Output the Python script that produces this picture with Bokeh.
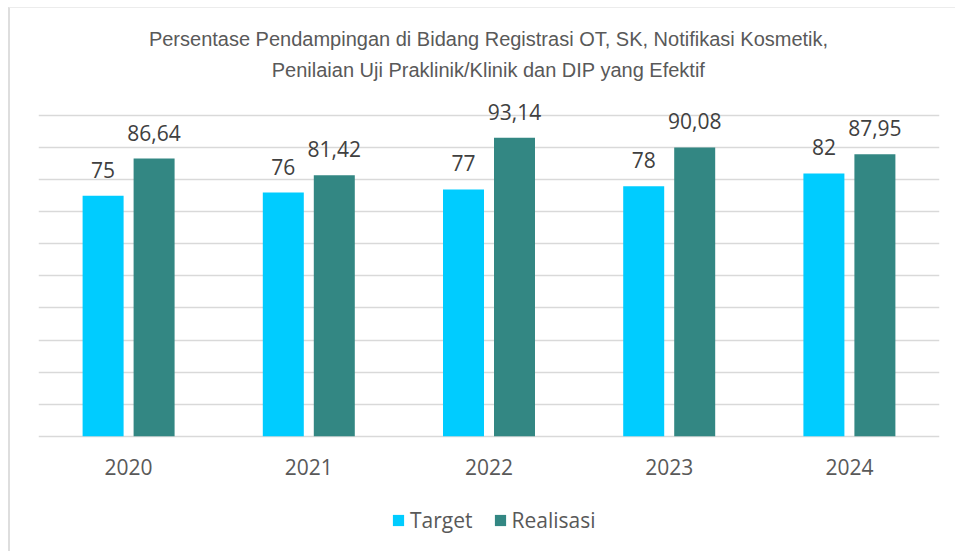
from bokeh.plotting import figure
from bokeh.models import (ColumnDataSource, LabelSet, Label, Legend, LegendItem,
                          FixedTicker, Grid, Range1d)
from bokeh.core.properties import value
from bokeh.transform import dodge
from bokeh.embed import file_html
from bokeh.resources import INLINE

years = ["2020", "2021", "2022", "2023", "2024"]
target = [75, 76, 77, 78, 82]
realisasi = [86.64, 81.42, 93.14, 90.08, 87.95]
grid_ticks = [0, 10, 20, 30, 40, 50, 60, 70, 80, 90, 100]
title_lines = ["Persentase Pendampingan di Bidang Registrasi OT, SK, Notifikasi Kosmetik,",
               "Penilaian Uji Praklinik/Klinik dan DIP yang Efektif"]

def fmt(v):
    return f"{v:g}".replace(".", ",")

src = ColumnDataSource(dict(
    year=years, target=target, realisasi=realisasi,
    base=[0] * len(years),
    target_lbl=[fmt(v) for v in target],
    real_lbl=[fmt(v) for v in realisasi],
))

W, H = 947, 544
p = figure(width=W, height=H, x_range=years, y_range=Range1d(-36.29, 133.45),
           output_backend="svg", toolbar_location=None,
           x_axis_location=None, y_axis_location=None,
           min_border_left=28, min_border_right=18, min_border_top=0, min_border_bottom=0)
p.styles = {"margin-left": "8px", "margin-top": "7px",
            "border-left": "2px solid #dedede", "border-top": "1px solid #ececec"}
p.outline_line_color = None
p.background_fill_color = "white"
p.border_fill_color = "white"
for g in list(p.xgrid) + list(p.ygrid):
    g.visible = False

p.add_layout(Grid(dimension=1, ticker=FixedTicker(ticks=grid_ticks),
                  grid_line_color="#d9d9d9", grid_line_width=1.5))

off = 0.1415
w = 0.2275
r1 = p.vbar(x=dodge("year", -off, range=p.x_range), top="target", width=w, source=src,
            fill_color="#00CCFF", line_color=None)
r2 = p.vbar(x=dodge("year", off, range=p.x_range), top="realisasi", width=w, source=src,
            fill_color="#338783", line_color=None)

for col, lbl, o in [("target", "target_lbl", -off), ("realisasi", "real_lbl", off)]:
    p.add_layout(LabelSet(x=dodge("year", o, range=p.x_range), y=col, text=lbl, source=src,
                          text_align="center", text_baseline="alphabetic", y_offset=18,
                          text_font=value("Open Sans"), text_font_size="21px",
                          text_color="#404040"))

# category labels under the baseline
p.add_layout(LabelSet(x="year", y="base", text="year", source=src,
                      text_align="center", text_baseline="alphabetic", y_offset=-39,
                      text_font=value("Open Sans"), text_font_size="21px",
                      text_color="#595959"))

# title (two centred lines)
for i, t in enumerate(title_lines):
    p.add_layout(Label(x=450, y=513.5 - 31 * i, x_units="screen", y_units="screen",
                       text=t, text_align="center", text_baseline="alphabetic",
                       text_font="Liberation Sans", text_font_size="20px",
                       text_color="#595959"))

legend = Legend(items=[LegendItem(label="Target", renderers=[r1]),
                       LegendItem(label="Realisasi", renderers=[r2])],
                orientation="horizontal", location=(353, 18),
                label_text_font="Open Sans", label_text_font_size="21px",
                label_text_color="#595959", glyph_width=14, glyph_height=14,
                spacing=20, label_standoff=5, padding=0, margin=0,
                border_line_color=None, background_fill_alpha=0)
p.add_layout(legend)

open("out.html", "w").write(file_html(p, INLINE))
